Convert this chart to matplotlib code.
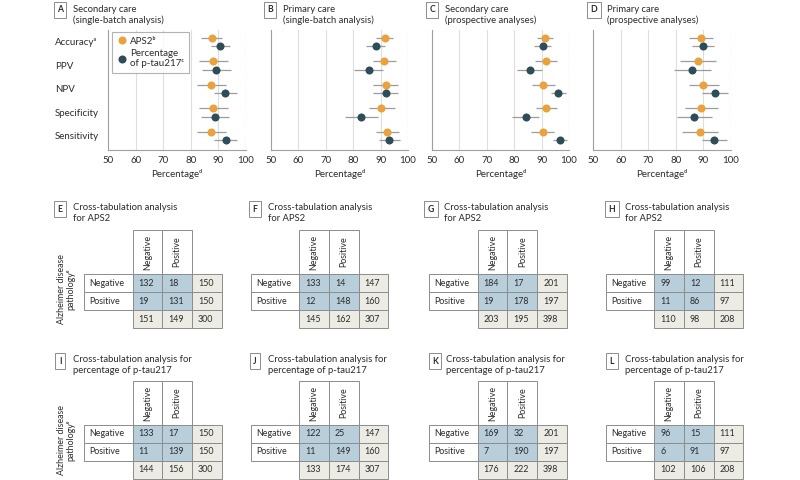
import numpy as np
import matplotlib
matplotlib.use("Agg")
import matplotlib.pyplot as plt
from matplotlib.patches import Rectangle
from matplotlib.lines import Line2D

plt.rcParams['font.family'] = ['Lato', 'DejaVu Sans']
plt.rcParams['font.size'] = 7

# ---------------- data ----------------
metrics = ["Accuracyᵃ", "PPV", "NPV", "Specificity", "Sensitivity"]

# Panel A: secondary care, single batch
A_aps2 = [87.6, 87.9, 87.3, 88.0, 87.3]
A_aps2_lo = [83.8, 82.9, 82.3, 82.9, 82.3]
A_aps2_hi = [91.4, 93.3, 92.9, 93.6, 92.9]
A_pt = [90.7, 89.1, 92.4, 88.7, 92.6]
A_pt_lo = [87.4, 84.1, 88.3, 83.8, 88.5]
A_pt_hi = [94.2, 94.4, 96.9, 93.9, 96.9]

# Panel B: primary care, single batch
B_aps2 = [91.5, 91.2, 91.8, 90.3, 92.5]
B_aps2_lo = [88.4, 87.1, 87.1, 85.8, 88.4]
B_aps2_hi = [94.5, 95.6, 96.5, 95.1, 96.6]
B_pt = [88.2, 85.6, 91.8, 82.8, 93.2]
B_pt_lo = [84.7, 80.2, 87.1, 76.9, 89.3]
B_pt_hi = [91.7, 90.9, 96.5, 89.0, 97.0]

# Panel C: secondary care, prospective
C_aps2 = [91.1, 91.5, 90.6, 91.7, 90.4]
C_aps2_lo = [88.2, 87.6, 86.6, 87.9, 86.3]
C_aps2_hi = [94.2, 95.5, 94.9, 95.8, 94.5]
C_pt = [90.4, 85.7, 96.1, 84.2, 96.6]
C_pt_lo = [87.4, 81.2, 93.4, 79.3, 94.1]
C_pt_hi = [93.3, 90.3, 98.9, 89.2, 99.1]

# Panel D: primary care, prospective
D_aps2 = [89.0, 87.9, 90.0, 89.3, 88.8]
D_aps2_lo = [84.8, 81.4, 84.7, 83.5, 82.3]
D_aps2_hi = [93.4, 94.4, 95.8, 95.2, 95.2]
D_pt = [89.9, 85.9, 94.2, 86.5, 94.0]
D_pt_lo = [86.0, 79.4, 89.6, 80.3, 89.4]
D_pt_hi = [94.0, 92.6, 98.8, 93.1, 98.7]

x_ticks = [50, 60, 70, 80, 90, 100]

# Cross tabulations (rows: AD pathology negative/positive/total; cols: test negative/positive/total)
col_labels = ["Negative", "Positive"]
row_labels = ["Negative", "Positive"]
E_tab = [[132, 18, 150], [19, 131, 150], [151, 149, 300]]
F_tab = [[133, 14, 147], [12, 148, 160], [145, 162, 307]]
G_tab = [[184, 17, 201], [19, 178, 197], [203, 195, 398]]
H_tab = [[99, 12, 111], [11, 86, 97], [110, 98, 208]]
I_tab = [[133, 17, 150], [11, 139, 150], [144, 156, 300]]
J_tab = [[122, 25, 147], [11, 149, 160], [133, 174, 307]]
K_tab = [[169, 32, 201], [7, 190, 197], [176, 222, 398]]
L_tab = [[96, 15, 111], [6, 91, 97], [102, 106, 208]]

# ---------------- style ----------------
W, H = 800, 480
ORANGE = '#EBA23C'
DARK = '#2E4D59'
GREY = '#9C9C9C'
TXT = '#2B2B2B'
BLUE = '#B8CFDB'
BEIGE = '#EDECE4'
EDGE = '#8C8C8C'
FS_TITLE = 6.8
FS_AX = 7.0
FS_TAB = 6.4

fig = plt.figure(figsize=(8, 4.8), dpi=100)


def fx(px):
    return px / W


def fy(py):
    return 1 - py / H


def panel_title(letter, bx, tx, ty, text):
    fig.text(fx(bx + 5), fy(ty + 2), letter, ha='center', va='center', fontsize=6.2,
             fontweight='bold', color=TXT,
             bbox=dict(boxstyle='square,pad=0.4', fc='white', ec='#8C8C8C', lw=0.7))
    fig.text(fx(tx), fy(ty - 3.5), text, ha='left', va='top', fontsize=FS_TITLE, color=TXT,
             linespacing=1.2)


def forest(x0, x1, aps, aps_lo, aps_hi, pt, pt_lo, pt_hi, show_labels=False, legend=False):
    ax = fig.add_axes([fx(x0), fy(150), fx(x1 - x0), 120 / H])
    y = np.arange(len(metrics))
    for g in x_ticks[1:-1]:
        ax.axvline(g, color='#DEDEDE', lw=0.8, zorder=0)
    ax.axvline(100, color='#A8A8A8', lw=0.8, ls=(0, (3, 2)), zorder=0)
    series = [(aps, aps_lo, aps_hi, ORANGE, -0.18, 'APS2ᵇ'),
              (pt, pt_lo, pt_hi, DARK, 0.18, 'Percentage\nof p-tau217ᶜ')]
    handles = []
    for v, lo, hi, col, off, lab in series:
        v = np.asarray(v); lo = np.asarray(lo); hi = np.asarray(hi)
        ax.errorbar(v, y + off, xerr=[v - lo, hi - v], fmt='o', color=col,
                    ecolor=GREY, elinewidth=0.9, capsize=2.4, capthick=0.9,
                    markersize=5.8, markeredgewidth=0, zorder=3)
        handles.append(Line2D([], [], marker='o', ls='', color=col, markersize=5.8,
                              markeredgewidth=0, label=lab))
    ax.set_xlim(50, 100)
    ax.set_ylim(4.6, -0.5)
    for s in ['top', 'right']:
        ax.spines[s].set_visible(False)
    for s in ['left', 'bottom']:
        ax.spines[s].set_color('#A0A0A0')
        ax.spines[s].set_linewidth(0.8)
    ax.set_xticks(x_ticks)
    ax.tick_params(axis='x', length=0, pad=4, labelsize=FS_AX, labelcolor=TXT)
    ax.set_yticks(y)
    if show_labels:
        ax.set_yticklabels(metrics, ha='left', fontsize=FS_AX, color=TXT)
        ax.tick_params(axis='y', length=0, pad=38)
    else:
        ax.set_yticklabels([])
        ax.tick_params(axis='y', length=0)
    ax.set_xlabel('Percentageᵈ', fontsize=FS_AX, color=TXT, labelpad=3)
    if legend:
        leg = ax.legend(handles=handles, loc='upper left', bbox_to_anchor=(0.03, 0.985),
                        borderaxespad=0, frameon=True, fancybox=False, fontsize=FS_AX,
                        handletextpad=0.3, handlelength=1.0, borderpad=0.5,
                        labelspacing=0.35, labelcolor=TXT)
        leg.get_frame().set_edgecolor('#A0A0A0')
        leg.get_frame().set_linewidth(0.8)
    return ax


forest(108, 246, A_aps2, A_aps2_lo, A_aps2_hi, A_pt, A_pt_lo, A_pt_hi, show_labels=True, legend=True)
forest(271, 408, B_aps2, B_aps2_lo, B_aps2_hi, B_pt, B_pt_lo, B_pt_hi)
forest(432, 569, C_aps2, C_aps2_lo, C_aps2_hi, C_pt, C_pt_lo, C_pt_hi)
forest(593, 731, D_aps2, D_aps2_lo, D_aps2_hi, D_pt, D_pt_lo, D_pt_hi)

panel_title('A', 55, 73, 8, 'Secondary care\n(single-batch analysis)')
panel_title('B', 265, 283, 8, 'Primary care\n(single-batch analysis)')
panel_title('C', 427, 445, 8, 'Secondary care\n(prospective analyses)')
panel_title('D', 589, 607, 8, 'Primary care\n(prospective analyses)')

LABW, COLW, HEADH, ROWH = 48.5, 29.7, 44, 18


def table(col_start, top, data):
    left = col_start - LABW
    tw = LABW + 3 * COLW
    th = HEADH + 3 * ROWH
    ax = fig.add_axes([fx(left), fy(top + th), fx(tw), th / H])
    ax.set_xlim(0, tw)
    ax.set_ylim(th, 0)
    ax.axis('off')
    for j, name in enumerate(col_labels):
        x = LABW + j * COLW
        ax.add_patch(Rectangle((x, 0), COLW, HEADH, fc='white', ec=EDGE, lw=0.7, clip_on=False))
        ax.text(x + COLW / 2, HEADH / 2, name, rotation=90, ha='center', va='center',
                fontsize=FS_TAB, color=TXT)
    for i, row in enumerate(data):
        yy = HEADH + i * ROWH
        if i < len(row_labels):
            ax.add_patch(Rectangle((0, yy), LABW, ROWH, fc='white', ec=EDGE, lw=0.7, clip_on=False))
            ax.text(5, yy + ROWH / 2, row_labels[i], ha='left', va='center', fontsize=FS_TAB,
                    color=TXT)
        for j, v in enumerate(row):
            fc = BLUE if (i < 2 and j < 2) else BEIGE
            ax.add_patch(Rectangle((LABW + j * COLW, yy), COLW, ROWH, fc=fc, ec=EDGE,
                                   lw=0.7, clip_on=False))
            ax.text(LABW + j * COLW + 6, yy + ROWH / 2, str(v), ha='left', va='center',
                    fontsize=FS_TAB, color=TXT)
    return ax


table(132.7, 230, E_tab)
table(299.3, 230, F_tab)
table(477.7, 230, G_tab)
table(654.3, 230, H_tab)
table(132.7, 381, I_tab)
table(299.3, 381, J_tab)
table(477.7, 381, K_tab)
table(654.3, 381, L_tab)

tt1 = 'Cross-tabulation analysis\nfor APS2'
tt2 = 'Cross-tabulation analysis for\npercentage of p-tau217'
panel_title('E', 55, 73, 207, tt1)
panel_title('F', 250, 268, 207, tt1)
panel_title('G', 426, 444, 207, tt1)
panel_title('H', 607, 625, 207, tt1)
panel_title('I', 55, 73, 359, tt2)
panel_title('J', 250, 268, 359, tt2)
panel_title('K', 430, 446, 359, tt2)
panel_title('L', 607, 625, 359, tt2)

for yc in (289, 440):
    fig.text(fx(66), fy(yc), 'Alzheimer disease\npathologyᵉ', rotation=90, ha='center',
             va='center', fontsize=FS_TAB, color=TXT, multialignment='center', linespacing=1.0)

fig.savefig('out.png', dpi=100, facecolor='white')
